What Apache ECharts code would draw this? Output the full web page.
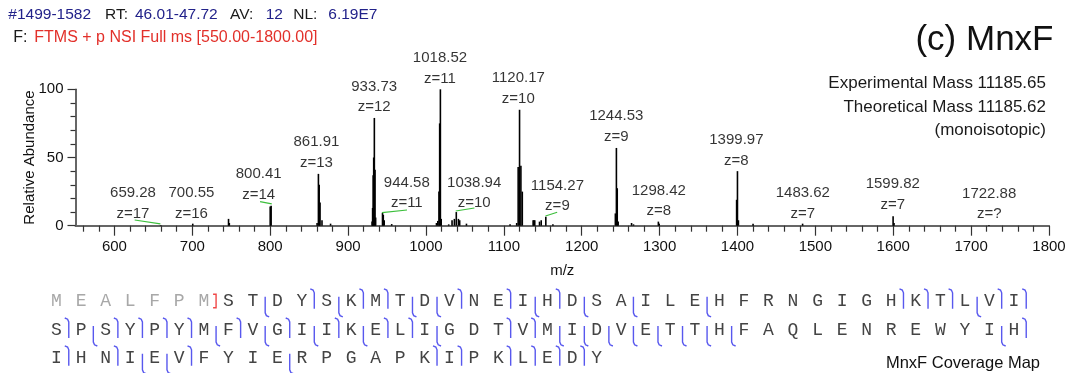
<!DOCTYPE html>
<html><head><meta charset="utf-8">
<script src="https://cdn.jsdelivr.net/npm/echarts@6/dist/echarts.min.js"></script>
<style>html,body{margin:0;padding:0;background:#fff}#c{width:1066px;height:373px}</style>
</head><body><div id="c"></div>
<script>
// ---- spectrum data (m/z, relative abundance) ----
const peakMz = [659.28,700.55,746.5,747.5,800.0,801.2,860.2,861.91,862.9,864.0,866.5,877.5,
  930.8,931.5,932.2,932.9,933.73,934.6,935.4,944.2,945.2,946.4,956.0,
  1013.5,1015.2,1016.7,1017.6,1018.52,1019.6,1029.2,1033.5,1036.5,1038.94,1041.7,1043.3,1052.0,
  1108.0,1116.5,1118.4,1120.17,1121.9,1123.7,1137.6,1138.6,1139.7,1145.8,1148.0,1153.9,1163.0,
  1243.2,1244.53,1245.6,1246.8,1264.0,1266.5,1298.42,1299.5,1398.9,1399.97,1401.2,1420.0,
  1483.62,1599.82,1601.0,1722.88];
const peakAbund = [0.4,1.5,5,2,14,14.7,2,38,30,17,4,1.5,
  3,13,37,50,79,41,6,9.5,8,4,1.2,
  2,3.5,25,75,100,5,1,4,5,10,5,4,1.5,
  1,2,43,85,44,25,4,4,4,3,4,6.5,1,
  9,57,27.5,3,2,1,3,1.5,19,40,4,1.5,
  1.5,7,2,0.5];

// ---- peak annotations ----
const labelMz = ['659.28','700.55','800.41','861.91','933.73','944.58','1018.52','1038.94','1120.17','1154.27','1244.53','1298.42','1399.97','1483.62','1599.82','1722.88'];
const labelZ  = ['z=17','z=16','z=14','z=13','z=12','z=11','z=11','z=10','z=10','z=9','z=9','z=8','z=8','z=7','z=7','z=?'];
const labelX  = [623.8,698.9,785.2,859.3,933.5,975.4,1018.0,1061.9,1118.6,1168.8,1244.4,1299.0,1398.6,1483.9,1599.4,1723.2];
const labelY  = [16.2,16.3,30.1,53.9,94.5,24.1,115.6,24.1,100.5,21.9,72.6,18.2,55.1,16.6,23.0,16.1];
const leaderFrom = [[626,4.2],[787,17.6],[943.6,9.6],[1038.2,10.8],[1153.5,7.1]];
const leaderTo   = [[659,1.3],[802,16.0],[975.7,11.5],[1062.2,13.0],[1168.5,9.9]];

// ---- axis ticks ----
const xMajorTicks = [600,700,800,900,1000,1100,1200,1300,1400,1500,1600,1700,1800];
const yTicks = [0,50,100];

// ---- texts ----
const headerParts = [['#1499-1582','v'],['RT:','k'],['46.01-47.72','v'],['AV:','k'],['12','v'],['NL:','k'],['6.19E7','v']];
const filterLabel = 'F:';
const filterText = 'FTMS + p NSI Full ms [550.00-1800.00]';
const titleText = '(c) MnxF';
const massLines = ['Experimental Mass 11185.65','Theoretical Mass 11185.62','(monoisotopic)'];
const mapTitle = 'MnxF Coverage Map';

// ---- sequence coverage ----
const seqRow1 = 'MEALFPMSTDYSKMTDVNEIHDSAILEHFRNGIGHKTLVI';
const seqRow2 = 'SPSYPYMFVGIIKELIGDTVMIDVETTHFAQLENREWYIH';
const seqRow3 = 'IHNIEVFYIERPGAPKIPKLEDY';
const cutRow1 = '......r.n.cnccnnc.cncn.n..n.......cccncc';
const cutRow2 = 'cnccccncncncnccn..ccnnnnnnnn..........nc';
const cutRow3 = 'c.cnnc...n.....cc.cccc.';
const cleavedN = 7;

// ---- build ----
const xMinorTicks = [];
for (let v = 560; v <= 1800; v += 20) if (v % 100 !== 0) xMinorTicks.push(v);

const SANS = '"Liberation Sans", Arial, sans-serif';
const TXT = '#111';
const peaks = peakMz.map((m, i) => [m, peakAbund[i]]);
const labelData = labelX.map((x, i) => [x, labelY[i]]);
const leaderData = [];
leaderFrom.forEach((p, i) => { leaderData.push(p, leaderTo[i], '-'); });

const graphic = [];
function txt(x, y, s, size, fill, align, family) {
  graphic.push({type:'text', x:x, y:y, silent:true,
    style:{text:s, font: size + 'px ' + (family || SANS), fill:fill,
      align:align||'left', verticalAlign:'middle', textAlign:align||'left', textVerticalAlign:'middle'}});
}
const headerX = [8.3,105,135,230,265.7,293.3,328.3];
headerParts.forEach((p, i) => txt(headerX[i], 15, p[0], 15.5, p[1]==='v' ? '#22228a' : '#1a1a1a', 'left'));
txt(13.3, 37.3, filterLabel, 16, '#1a1a1a', 'left');
txt(34.3, 37.3, filterText, 16, '#e2302a', 'left');
txt(1053.5, 40, titleText, 35, '#111', 'right');
massLines.forEach((s, i) => txt(1046, 83.3 + i*23.7, s, 17, '#1a1a1a', 'right'));
txt(1040, 363.3, mapTitle, 16.5, '#111', 'right');

const seqRows = [seqRow1, seqRow2, seqRow3];
const cutRows = [cutRow1, cutRow2, cutRow3];
const sx0 = 56.5, sdx = 24.55, sy = [300.8, 330, 357.8];
seqRows.forEach((row, r) => {
  const yc = sy[r];
  for (let i = 0; i < row.length; i++) {
    const x = sx0 + i*sdx;
    const col = (r === 0 && i < cleavedN) ? '#a8a8a8' : '#444';
    txt(x, yc, row[i], 18, col, 'center', '"Liberation Mono", "Courier New", monospace');
    const c = cutRows[r][i];
    const gx = x + sdx/2;
    let pts = null, stroke = '#5858ee';
    if (c === 'n') pts = [[gx, yc-4],[gx, yc+12],[gx+1.2, yc+14.8],[gx+4, yc+16]];
    else if (c === 'c') pts = [[gx-4, yc-12],[gx-1.2, yc-10.8],[gx, yc-8],[gx, yc+8]];
    else if (c === 'r') { pts = [[gx-3, yc-6.5],[gx, yc-6.5],[gx, yc+7],[gx-3, yc+7]]; stroke = '#f04848'; }
    if (pts) graphic.push({type:'polyline', silent:true, shape:{points:pts}, style:{stroke:stroke, lineWidth:1.4, fill:null}});
  }
});

const chart = echarts.init(document.getElementById('c'), null, {renderer:'canvas'});
chart.setOption({
  animation:false,
  backgroundColor:'#fff',
  grid:{left:75.5, right:17, top:89.3, bottom:147.3, outerBoundsMode:'none', containLabel:false},
  xAxis:[{
    type:'value', min:550, max:1800, position:'bottom',
    name:'m/z', nameLocation:'middle', nameGap:38,
    nameTextStyle:{fontSize:15, color:TXT, fontFamily:SANS},
    axisLine:{show:true, onZero:false, lineStyle:{color:'#666', width:2}},
    axisTick:{show:true, customValues:xMajorTicks, length:10, lineStyle:{color:'#333', width:1.2}},
    axisLabel:{show:true, customValues:xMajorTicks, fontSize:15, color:TXT, margin:14, fontFamily:SANS,
      formatter: v => String(v)},
    splitLine:{show:false}
  },{
    type:'value', min:550, max:1800, position:'bottom', offset:0,
    axisLine:{show:false, onZero:false},
    axisTick:{show:true, customValues:xMinorTicks, length:6, lineStyle:{color:'#333', width:1.2}},
    axisLabel:{show:false},
    splitLine:{show:false}
  }],
  yAxis:{
    type:'value', min:0, max:100, interval:50,
    name:'Relative Abundance', nameLocation:'middle', nameGap:38, nameMoveOverlap:false,
    nameTextStyle:{fontSize:15, color:TXT, fontFamily:SANS},
    axisLine:{show:true, lineStyle:{color:'#333', width:1.5}},
    axisTick:{show:true, length:8, lineStyle:{color:'#333', width:1.2}},
    minorTick:{show:true, splitNumber:5, length:5, lineStyle:{color:'#333', width:1.2}},
    axisLabel:{fontSize:15, color:TXT, margin:12, fontFamily:SANS, customValues:yTicks},
    splitLine:{show:false}
  },
  graphic: graphic,
  series:[
    {type:'bar', xAxisIndex:0, data:peaks, barWidth:1.6, itemStyle:{color:'#000'}, silent:true},
    {type:'line', xAxisIndex:0, data:leaderData, symbol:'none', connectNulls:false, silent:true,
      lineStyle:{color:'#3cbf3c', width:1.2}},
    {type:'scatter', xAxisIndex:0, data:labelData, symbolSize:0, clip:false, silent:true,
      label:{show:true, position:'inside', fontSize:15, lineHeight:20.7, color:'#000', fontFamily:SANS,
        textBorderWidth:0, formatter: p => labelMz[p.dataIndex] + '\n' + labelZ[p.dataIndex]}}
  ]
});
</script></body></html>
